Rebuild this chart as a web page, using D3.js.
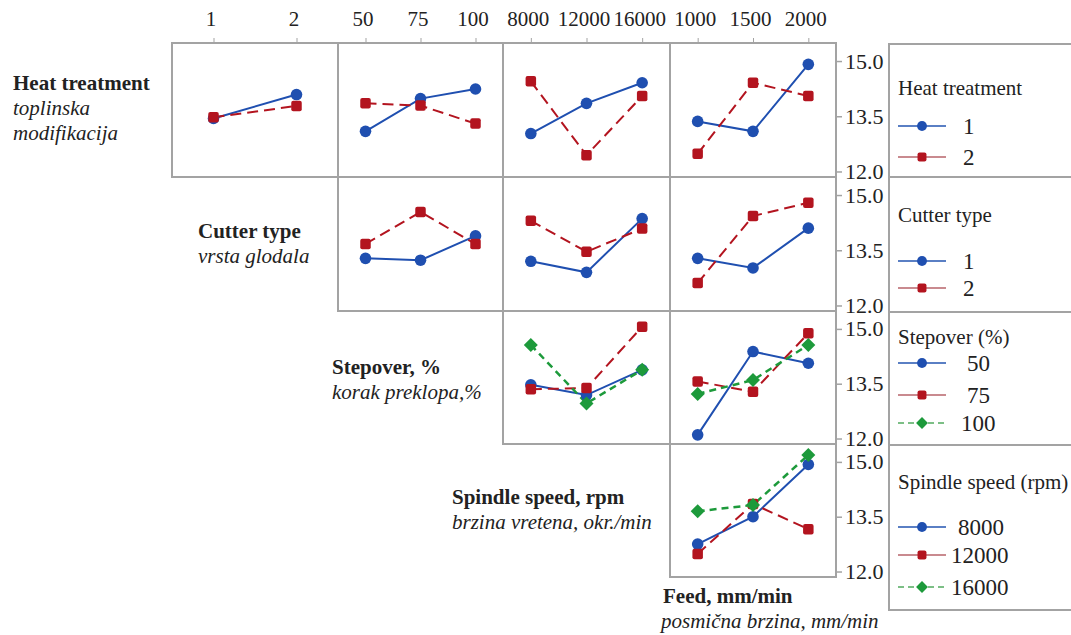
<!DOCTYPE html>
<html>
<head>
<meta charset="utf-8">
<script src="https://cdn.jsdelivr.net/npm/d3@7"></script>
<style>
  html,body{margin:0;padding:0;background:#fff;}
  svg text{font-family:"Liberation Serif","Times New Roman",serif;fill:#222;}
</style>
</head>
<body>
<svg id="chart" width="1071" height="635"></svg>
<script>
// ---------- DATA ----------
const heatLevels = ["1", "2"];
const cutterLevels = ["1", "2"];
const stepoverLevels = ["50", "75", "100"];
const spindleLevels = ["8000", "12000", "16000"];
const feedLevels = ["1000", "1500", "2000"];
const yTicks = [12.0, 13.5, 15.0];

// rows = line factor, columns = x factor; each array: one series per level of line factor
const heatByCutter   = [[13.44, 14.09], [13.47, 13.78]];
const heatByStepover = [[13.09, 13.98, 14.24], [13.85, 13.79, 13.30]];
const heatBySpindle  = [[13.03, 13.85, 14.41], [14.45, 12.44, 14.05]];
const heatByFeed     = [[13.36, 13.09, 14.91], [12.48, 14.41, 14.05]];
const cutterByStepover = [[13.28, 13.23, 13.89], [13.67, 14.54, 13.67]];
const cutterBySpindle  = [[13.20, 12.90, 14.36], [14.30, 13.46, 14.09]];
const cutterByFeed     = [[13.28, 13.02, 14.10], [12.61, 14.43, 14.79]];
const stepoverBySpindle = [[13.47, 13.19, 13.88], [13.35, 13.38, 15.06], [14.56, 12.96, 13.88]];
const stepoverByFeed    = [[12.10, 14.38, 14.06], [13.56, 13.28, 14.88], [13.22, 13.60, 14.56]];
const spindleByFeed     = [[12.75, 13.50, 14.93], [12.48, 13.85, 13.16], [13.65, 13.82, 15.19]];

const topLabels = [cutterLevels, stepoverLevels, spindleLevels, feedLevels];
const legendTitles = ["Heat treatment", "Cutter type", "Stepover (%)", "Spindle speed (rpm)"];
const legendLevels = [heatLevels, cutterLevels, stepoverLevels, spindleLevels];
const rowTitles = [
  ["Heat treatment", "toplinska", "modifikacija"],
  ["Cutter type", "vrsta glodala"],
  ["Stepover, %", "korak preklopa,%"],
  ["Spindle speed, rpm", "brzina vretena, okr./min"],
  ["Feed, mm/min", "posmična brzina, mm/min"]
];

const panels = [
  {row: 0, col: 0, data: heatByCutter},
  {row: 0, col: 1, data: heatByStepover},
  {row: 0, col: 2, data: heatBySpindle},
  {row: 0, col: 3, data: heatByFeed},
  {row: 1, col: 1, data: cutterByStepover},
  {row: 1, col: 2, data: cutterBySpindle},
  {row: 1, col: 3, data: cutterByFeed},
  {row: 2, col: 2, data: stepoverBySpindle},
  {row: 2, col: 3, data: stepoverByFeed},
  {row: 3, col: 3, data: spindleByFeed}
];

// ---------- LAYOUT ----------
const colX = [172, 338, 503, 670, 836];
const rowY = [43, 177, 311, 444, 577];
const gridColor = "#a3a3a3";
const colors = ["#1f4fb0", "#b3141f", "#1d9a3b"];
const dashes = [null, "11,6", "7,5"];
const titleSize = 21;
const tickSize = 21;

const svg = d3.select("#chart");

const xScales = topLabels.map((lv, c) =>
  d3.scalePoint().domain(lv).range([colX[c], colX[c + 1]]).padding(0.5));
const yScales = [0, 1, 2, 3].map(r =>
  d3.scaleLinear().domain([11.85, 15.49]).range([rowY[r + 1], rowY[r]]));

function marker(g, k, x, y, big) {
  const s = big ? 1 : 0.85;
  if (k === 0) {
    g.append("circle").attr("cx", x).attr("cy", y).attr("r", 5.8 * s).attr("fill", colors[0]);
  } else if (k === 1) {
    const w = 10.5 * s;
    g.append("rect").attr("x", x - w / 2).attr("y", y - w / 2).attr("width", w).attr("height", w)
      .attr("rx", 2).attr("fill", colors[1]);
  } else {
    const w = 7 * s;
    g.append("path").attr("d", `M${x},${y - w}L${x + w},${y}L${x},${y + w}L${x - w},${y}Z`)
      .attr("fill", colors[2]);
  }
}

// panels
panels.forEach(p => {
  const g = svg.append("g");
  const xs = xScales[p.col], ys = yScales[p.row];
  g.append("rect").attr("x", colX[p.col]).attr("y", rowY[p.row])
    .attr("width", colX[p.col + 1] - colX[p.col]).attr("height", rowY[p.row + 1] - rowY[p.row])
    .attr("fill", "none").attr("stroke", gridColor).attr("stroke-width", 2);
  const lvls = topLabels[p.col];
  const line = d3.line().x((d, i) => xs(lvls[i])).y(d => ys(d));
  p.data.forEach((series, k) => {
    g.append("path").attr("d", line(series)).attr("fill", "none")
      .attr("stroke", colors[k]).attr("stroke-width", k === 2 ? 2.5 : 2)
      .attr("stroke-dasharray", dashes[k]);
  });
  p.data.forEach((series, k) => {
    series.forEach((v, i) => marker(g, k, xs(lvls[i]), ys(v), true));
  });
});

// top axes
topLabels.forEach((lv, c) => {
  const ax = d3.axisTop(xScales[c]).tickSize(5).tickSizeOuter(0);
  const g = svg.append("g").attr("transform", `translate(0,${rowY[0]})`).call(ax);
  g.select(".domain").remove();
  g.selectAll(".tick line").attr("stroke", gridColor).attr("stroke-width", 1);
  g.selectAll(".tick text").attr("y", -17).attr("x", -3).attr("font-size", tickSize)
    .style("font-family", "'Liberation Serif',serif").attr("fill", "#222");
});

// right axes
yScales.forEach((ys, r) => {
  const ax = d3.axisRight(ys).tickValues(yTicks).tickFormat(d3.format(".1f")).tickSize(6);
  const g = svg.append("g").attr("transform", `translate(${colX[4]},0)`).call(ax);
  g.select(".domain").remove();
  g.selectAll(".tick line").attr("stroke", gridColor).attr("stroke-width", 1.5);
  g.selectAll(".tick text").attr("x", 9).attr("font-size", 22)
    .style("font-family", "'Liberation Serif',serif").attr("fill", "#222");
});

// legends
const legBoxes = [[44, 177], [177, 312], [312, 445], [445, 610]];
const legTitleY = [88, 215, 337, 482];
const legItemY = [[126, 157], [261, 288], [363, 395, 423], [527, 555, 587]];
legBoxes.forEach((b, r) => {
  svg.append("rect").attr("x", 889).attr("y", b[0]).attr("width", 200).attr("height", b[1] - b[0])
    .attr("fill", "none").attr("stroke", gridColor).attr("stroke-width", 2);
  svg.append("text").attr("x", 898).attr("y", legTitleY[r]).attr("dy", "0.35em")
    .attr("font-size", titleSize).text(legendTitles[r]);
  legendLevels[r].forEach((lv, k) => {
    const y = legItemY[r][k];
    const lc = k === 1 ? "#c98a8f" : (k === 0 ? "#5a7fc4" : "#7cbf86");
    svg.append("line").attr("x1", 898).attr("x2", 946).attr("y1", y).attr("y2", y)
      .attr("stroke", lc).attr("stroke-width", 2).attr("stroke-dasharray", k === 2 ? "6,4" : null);
    marker(svg, k, 922, y, false);
    const tx = lv.length >= 5 ? 951 : (lv.length === 4 ? 958 : (lv.length === 3 ? 961 : (lv.length === 2 ? 967 : 963)));
    svg.append("text").attr("x", tx).attr("y", y).attr("dy", "0.35em")
      .attr("font-size", 23).text(lv);
  });
});

// row titles
const titlePos = [[13, 83], [198, 231], [332, 367], [452, 497], [663, 596]];
rowTitles.forEach((t, i) => {
  t.forEach((s, j) => {
    svg.append("text").attr("x", titlePos[i][0] - (i === 4 && j > 0 ? 2 : 0))
      .attr("y", titlePos[i][1] + j * 25).attr("dy", "0.35em")
      .attr("font-size", titleSize)
      .attr("font-weight", j === 0 ? "bold" : "normal")
      .attr("font-style", j === 0 ? "normal" : "italic")
      .text(s);
  });
});
</script>
</body>
</html>
